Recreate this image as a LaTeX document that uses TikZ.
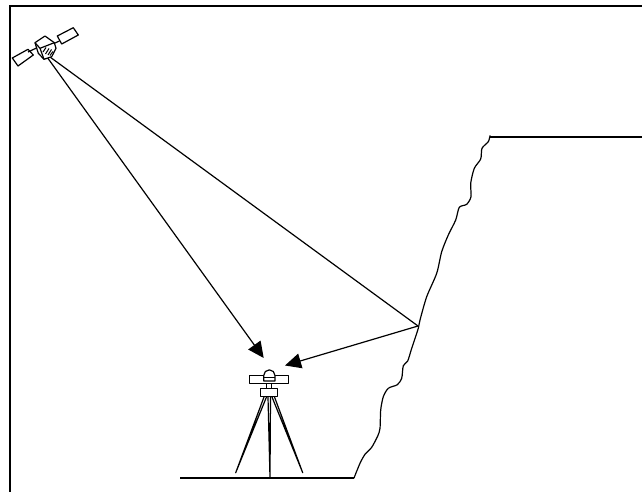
\documentclass[tikz,border=0pt]{standalone}
\usetikzlibrary{arrows.meta}
\tikzset{
  outline/.style={line width=1.2pt,black,line join=round},
  frameline/.style={line width=2pt,black},
  ray/.style={line width=1.2pt,black},
  rayhead/.style={ray,-{Triangle[length=16pt,width=15pt]}},
  bar/.style={outline,fill=white},
  legline/.style={line width=1.2pt,black,line join=round}
}
\begin{document}
\begin{tikzpicture}[x=1pt,y=-1pt]
\useasboundingbox (0,0) rectangle (642,492);
% sheet border: top and left only
\draw[frameline] (10,492) -- (10,6) -- (642,6);

% named points of the survey geometry
\coordinate (satA) at (47,57);
\coordinate (satB) at (50,57);
\coordinate (reflect) at (418,326);
\coordinate (instA) at (263.7,358);
\coordinate (instB) at (285,365.5);

% signal paths
\draw[ray] (satB) -- (reflect);
\draw[rayhead] (satA) -- (instA);
\draw[rayhead] (reflect) -- (instB);

% satellite
\draw[outline,fill=white] (12.3,58) -- (28,49.3) -- (33.3,55) -- (18,66) -- cycle;
\draw[outline,fill=white] (57.3,36) -- (73.3,27.7) -- (78.3,35) -- (61.7,44) -- cycle;
\draw[outline] (28,52) -- (36.5,48);
\draw[outline] (54,43.5) -- (59.5,41);
\draw[outline,fill=white] (35,42.7) -- (45,36) -- (54.3,42.7) -- (56,48.3) -- (51.7,56.7)
  -- (44,59.3) -- (38.3,53.3) -- cycle;
\draw[outline] (35,42.7) -- (40,48.3) -- (54.3,42.7);
\draw[outline] (40,48.3) -- (44,59.3);
\draw[line width=1pt] (43,52) -- (46,47.5) (45.5,54) -- (49,48.5) (48,55) -- (51.5,49.5) (50,55.5) -- (53,51.5);

% ground and cliff profile
\draw[outline] (180,478) -- (354,478);
\draw[outline,line cap=round] plot[smooth,tension=0.45] coordinates {
  (354,478) (360,463.3) (365,454.3) (371.7,447.3) (377.7,436) (380,428.3) (380.7,410)
  (383.3,396.7) (388.3,388.3) (397.3,384.7) (401.7,378.3) (403.3,365.7) (407.7,361)
  (411.7,348.3) (418.3,328.3) (420,320) (426.7,296.7) (436.7,273.3) (441.7,251.7)
  (448.3,235) (455.7,220) (459.3,207.3) (466.7,204.3) (471,196.7) (470.7,183.3)
  (474.3,168.3) (480.7,159) (482,148.3) (488.3,141.7) (490,135.7)};
\draw[outline] (490,137) -- (642,137);

% tripod legs
\draw[legline] (264,397) -- (235.7,472.7) -- (266.5,397);
\draw[legline] (268,397) -- (270,478) -- (270.5,397);
\draw[legline] (272,397) -- (302.7,472.7) -- (274.5,397);

% levelling instrument
\draw[bar] (266.7,383.7) rectangle (271.7,388.3);
\draw[bar] (260.7,388.5) rectangle (277.3,396.7);
\draw[bar] (249.7,375.5) rectangle (288.7,383.7);
\draw[bar] (263.7,380.9) -- (263.7,375.5) arc[start angle=180,end angle=360,radius=5.65] -- (275,380.9) -- cycle;
\draw[line width=0.9pt] (263.7,377.6) -- (275,377.6);
\end{tikzpicture}
\end{document}
